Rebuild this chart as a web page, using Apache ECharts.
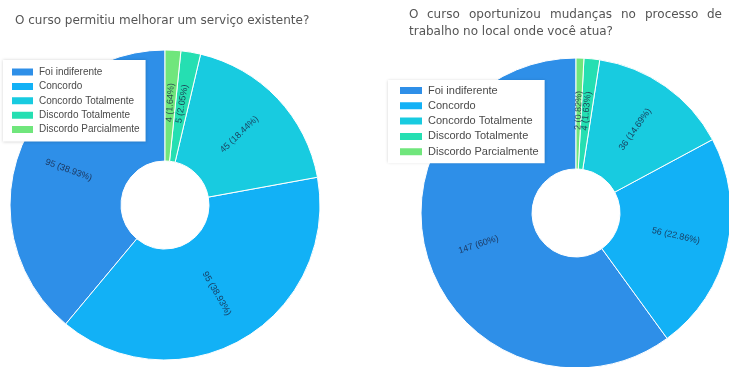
<!DOCTYPE html>
<html>
<head>
<meta charset="utf-8">
<script src="https://cdn.jsdelivr.net/npm/echarts@6/dist/echarts.min.js"></script>
<style>
  html, body { margin: 0; padding: 0; background: #fff; }
  #chart { width: 729px; height: 367px; }
</style>
</head>
<body>
<div id="chart"></div>
<script>
// Answer categories (legend order)
const categories = ['Foi indiferente', 'Concordo', 'Concordo Totalmente', 'Discordo Totalmente', 'Discordo Parcialmente'];
const palette = ['#2e8fe8', '#12b1f6', '#18cbe0', '#25dfb2', '#70e67c'];

// Q1: O curso permitiu melhorar um serviço existente?
const titleLeft = 'O curso permitiu melhorar um serviço existente?';
const valuesLeft = [95, 95, 45, 5, 4];

// Q2: O curso oportunizou mudanças no processo de trabalho...
const titleRightLine1 = ['O', 'curso', 'oportunizou', 'mudanças', 'no', 'processo', 'de'];
const titleRightLine2 = 'trabalho no local onde você atua?';
const valuesRight = [147, 56, 36, 4, 2];

function pieData(values) {
  return categories.map((name, i) => ({ name, value: values[i], itemStyle: { color: palette[i] } }));
}

function pctLabel(values) {
  const total = values.reduce((a, b) => a + b, 0);
  return p => p.value + ' (' + (Math.round(p.value / total * 10000) / 100) + '%)';
}

function pieSeries(values, center) {
  return {
    type: 'pie',
    center: center,
    radius: [44, 155],
    startAngle: 90,
    clockwise: false,
    avoidLabelOverlap: false,
    minShowLabelAngle: 0,
    animation: false,
    itemStyle: { borderColor: '#ffffff', borderWidth: 1 },
    label: {
      show: true,
      position: 'inside',
      rotate: 'radial',
      fontSize: 9,
      fontFamily: 'Liberation Sans, Arial, sans-serif',
      color: 'rgba(25,40,70,0.85)',
      formatter: pctLabel(values)
    },
    labelLayout: { hideOverlap: false },
    labelLine: { show: false },
    emphasis: { disabled: true },
    data: pieData(values)
  };
}

const titleFont = { fontSize: 12, fontWeight: 'normal', color: '#555', fontFamily: 'DejaVu Sans, sans-serif' };

const chart = echarts.init(document.getElementById('chart'), null, { renderer: 'canvas' });

chart.setOption({
  backgroundColor: '#ffffff',
  title: [
    { text: titleLeft, left: 15, top: 15, padding: 0, textStyle: titleFont },
    { text: titleRightLine2, left: 409, top: 26, padding: 0, textStyle: titleFont }
  ],
  legend: [
    {
      orient: 'vertical', left: 3, top: 60,
      data: categories,
      icon: 'rect', itemWidth: 23, itemHeight: 9, itemGap: 2.4,
      padding: [6, 6, 6, 7],
      backgroundColor: '#ffffff',
      shadowBlur: 3, shadowColor: 'rgba(0,0,0,0.18)',
      textStyle: { fontSize: 10, lineHeight: 12, color: '#4a4a4a', fontFamily: 'Liberation Sans, Arial, sans-serif' },
      selectedMode: false
    },
    {
      orient: 'vertical', left: 388, top: 80,
      data: categories,
      icon: 'rect', itemWidth: 24, itemHeight: 9, itemGap: 2.3,
      padding: [4, 6, 5, 10],
      backgroundColor: '#ffffff',
      shadowBlur: 3, shadowColor: 'rgba(0,0,0,0.18)',
      textStyle: { fontSize: 11, lineHeight: 13, color: '#4a4a4a', fontFamily: 'Liberation Sans, Arial, sans-serif' },
      selectedMode: false
    }
  ],
  series: [
    pieSeries(valuesLeft, [165, 205]),
    pieSeries(valuesRight, [576, 213])
  ]
});

// first line of the right title: words spread so the line ends flush right
const line1Left = 409, line1Right = 722;
const ctx = document.createElement('canvas').getContext('2d');
ctx.font = '12px "DejaVu Sans"';
const widths = titleRightLine1.map(w => ctx.measureText(w).width);
const totalW = widths.reduce((a, b) => a + b, 0);
const gap = (line1Right - line1Left - totalW) / (titleRightLine1.length - 1);
const titles = chart.getOption().title.slice();
let x = line1Left;
titleRightLine1.forEach((w, i) => {
  titles.push({ text: w, left: Math.round(x), top: 9, padding: 0, textStyle: titleFont });
  x += widths[i] + gap;
});
chart.setOption({ title: titles });
</script>
</body>
</html>
